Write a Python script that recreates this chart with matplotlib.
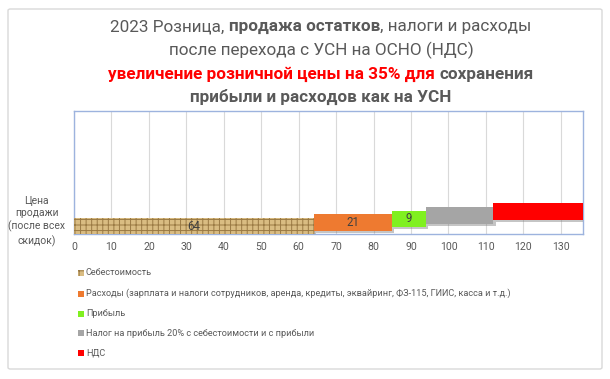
import matplotlib
matplotlib.use("Agg")
import matplotlib.pyplot as plt
import matplotlib.patheffects as pe
from matplotlib.patches import FancyBboxPatch, Rectangle

plt.rcParams['font.family'] = ['Roboto', 'DejaVu Sans']
plt.rcParams['hatch.linewidth'] = 0.7

# ---------------- data ----------------
category = "Цена\nпродажи\n(после всех\nскидок)"
series_names = [
    "Себестоимость",
    "Расходы (зарплата и налоги сотрудников, аренда, кредиты, эквайринг, ФЗ-115, ГИИС, касса и т.д.)",
    "Прибыль",
    "Налог на прибыль 20% с себестоимости и с прибыли",
    "НДС",
]
series_values = [64, 21, 9, 18, 24]
value_labels = ["64", "21", "9", "", ""]
x_ticks = list(range(0, 131, 10))
x_max = 136

title_lines = [
    [("2023 Розница, ", "normal", "#595959"), ("продажа остатков", "bold", "#595959"),
     (", налоги и расходы", "normal", "#595959")],
    [("после перехода с УСН на ОСНО (НДС)", "normal", "#595959")],
    [("увеличение розничной цены на 35% для ", "bold", "#FF0000"),
     ("сохранения", "bold", "#595959")],
    [("прибыли и расходов как на УСН", "bold", "#595959")],
]

# ---------------- styles ----------------
colors = ["#D9BC82", "#EE7A30", "#80F020", "#A5A5A5", "#FF0000"]
W, H = 610, 379
fig = plt.figure(figsize=(W / 100, H / 100), dpi=100)
fig.patch.set_facecolor("white")

# outer chart frame
frame = FancyBboxPatch((8 / W, 1 - 369 / H), (602 - 8) / W, (369 - 9) / H,
                       boxstyle="round,pad=0,rounding_size=0.004",
                       transform=fig.transFigure, facecolor="none",
                       edgecolor="#D9D9D9", lw=1.0, zorder=-5)
fig.patches.append(frame)

ax = fig.add_axes([74 / W, 1 - 234 / H, (583.3 - 74) / W, (234 - 111) / H])
ax.set_xlim(0, x_max)
ax.set_ylim(0, 1)
ax.set_xticks(x_ticks)
ax.tick_params(axis="both", length=0, colors="#595959", labelsize=7.6)
ax.tick_params(axis="x", pad=5.5)
for s in ax.spines.values():
    s.set_color("#9DB3DE")
    s.set_linewidth(1.0)
ax.grid(axis="x", color="#D9D9D9", lw=0.8)
ax.set_axisbelow(True)

height = 0.135
step = 0.03
base = -0.005
left = 0
shadow = [pe.SimplePatchShadow(offset=(1.5, -1.5), shadow_rgbFace="#808080", alpha=0.45), pe.Normal()]
for i, (name, val, col, lab) in enumerate(zip(series_names, series_values, colors, value_labels)):
    yc = base + i * step + height / 2
    if i == 0:
        bars = ax.barh(yc, val, left=left, height=height, color=col,
                       edgecolor="#9A7A44", hatch="+++", linewidth=0, label=name, zorder=3)
    else:
        bars = ax.barh(yc, val, left=left, height=height, color=col,
                       linewidth=0, label=name, zorder=3)
    for b in bars:
        b.set_path_effects(shadow)
    if lab:
        ax.text(left + val / 2, yc, lab, ha="center", va="center",
                color="#404040", fontsize=8.3, zorder=5)
    left += val

ax.set_yticks([0.125])
ax.set_yticklabels([category], ha="center", fontsize=7.5, linespacing=1.3)
ax.tick_params(axis="y", pad=27)

# ---------------- title (rich text) ----------------
renderer = fig.canvas.get_renderer()


def measure(s, weight, size):
    t = fig.text(0, 0, s, fontsize=size, weight=weight)
    w = t.get_window_extent(renderer).width
    t.remove()
    return w


ref_w = sum(measure(s, w, 10) for s, w, c in title_lines[0])
tsize = 10 * 423 / ref_w
centers_y = [26.7, 50, 74, 96.7]
for line, yc in zip(title_lines, centers_y):
    widths = [measure(s, w, tsize) for s, w, c in line]
    x = 321 - sum(widths) / 2
    for (s, w, c), wd in zip(line, widths):
        fig.text(x / W, 1 - yc / H, s, fontsize=tsize, weight=w, color=c,
                 ha="left", va="center")
        x += wd

# ---------------- legend (manual) ----------------
lsize = 10 * 426 / measure(series_names[1], "normal", 10)
legend_y = [272.7, 293.7, 313.7, 333, 352.7]
for name, col, yc, i in zip(series_names, colors, legend_y, range(5)):
    r = Rectangle((78.3 / W, 1 - (yc + 3) / H), 6 / W, 6 / H, transform=fig.transFigure,
                  facecolor=col, edgecolor="#9A7A44" if i == 0 else "none",
                  hatch="++" if i == 0 else None, linewidth=0)
    fig.patches.append(r)
    fig.text(86 / W, 1 - yc / H, name, fontsize=lsize, color="#595959",
             ha="left", va="center")

fig.savefig("out.png", dpi=100, facecolor="white")
